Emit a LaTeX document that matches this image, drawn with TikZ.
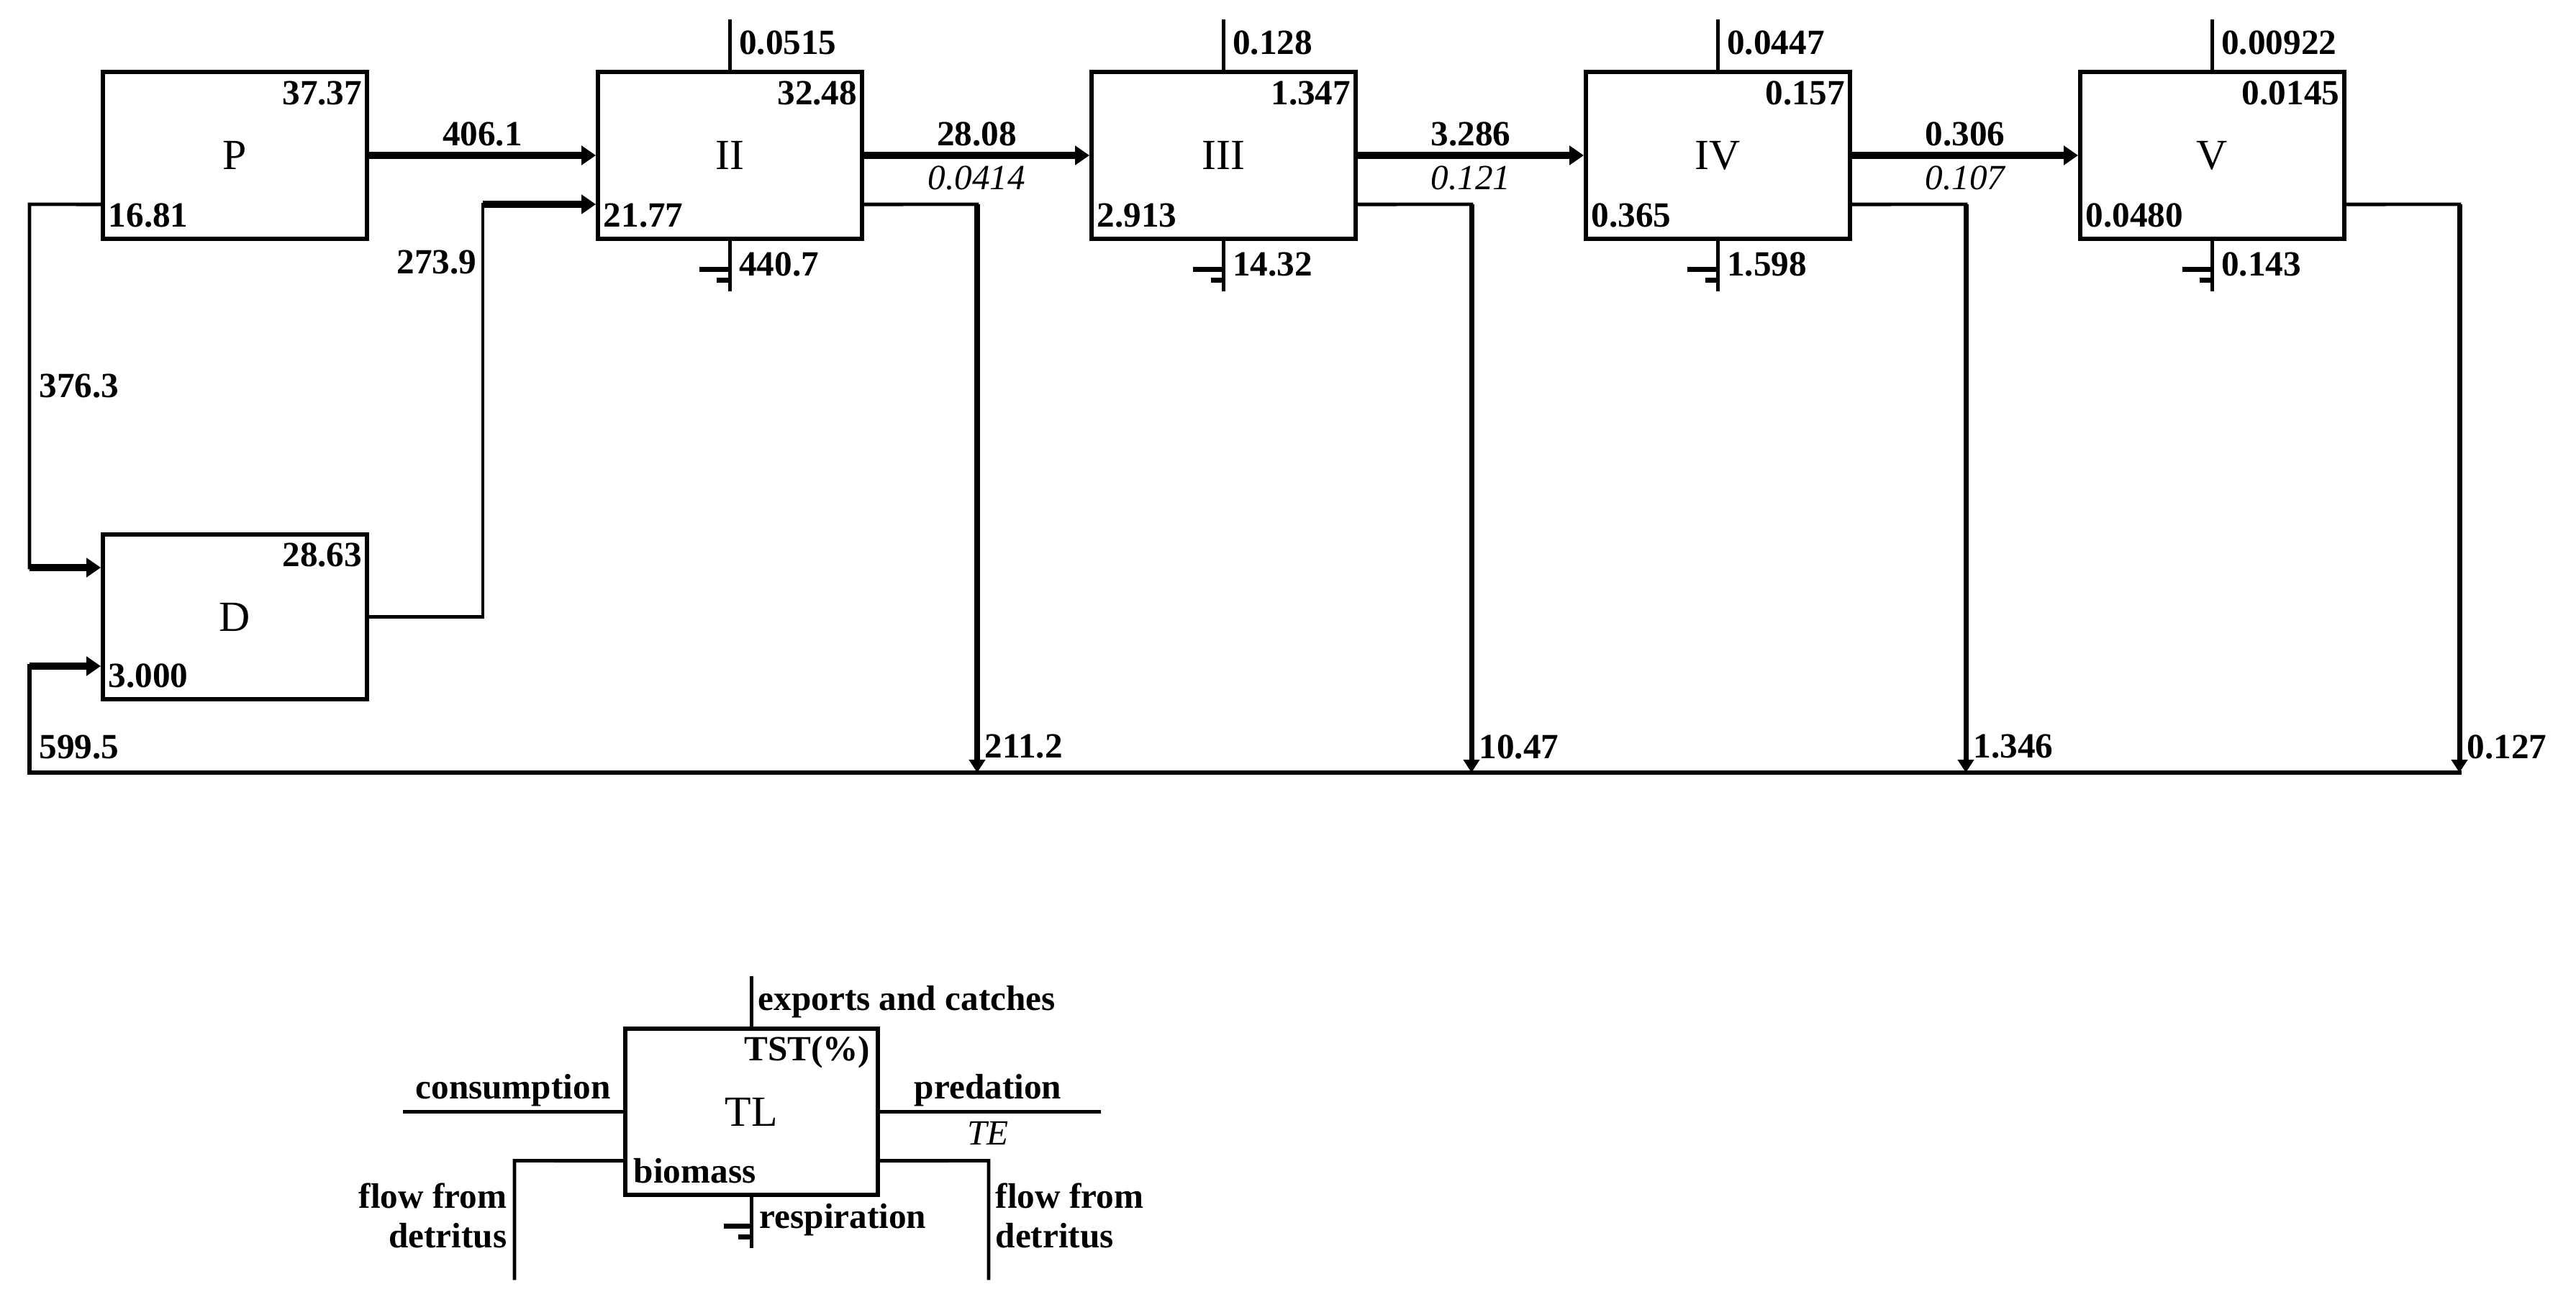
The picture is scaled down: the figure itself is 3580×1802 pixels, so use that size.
\documentclass[tikz,border=0pt]{standalone}
\usepackage{fontspec}
\setmainfont{Liberation Serif}
\usetikzlibrary{arrows.meta}
\begin{document}
\begin{tikzpicture}[x=0.01cm,y=-0.01cm,
  tl/.style={draw, line width=1.6pt, minimum width=3.67cm, minimum height=2.32cm, inner sep=0pt, font=\fontsize{17}{20}\selectfont},
  num/.style={inner sep=0pt, font=\fontsize{14}{16}\selectfont\bfseries},
  numit/.style={inner sep=0pt, font=\fontsize{14}{16}\selectfont\itshape},
  link/.style={line width=1.4pt, line cap=rect},
  flow/.style={line width=2.8pt, -{Triangle[length=0.2cm,width=0.26cm]}},
  drop/.style={line width=2pt, -{Triangle[length=0.18cm,width=0.22cm]}},
  gnd/.style={line width=2pt},
]
\useasboundingbox (0,0) rectangle (3580,1802);

% boxes
\node[tl] (P) at (326.5,216) {P};
\node[tl] (II) at (1014.5,216) {II};
\node[tl] (III) at (1700.5,216) {III};
\node[tl] (IV) at (2387.5,216) {IV};
\node[tl] (V) at (3074.5,216) {V};
\node[tl, minimum height=2.29cm] (D) at (326.5,857.5) {D};

% in-box labels of P and D
\node[num, anchor=east] (P-tr) at ([shift={(-0.09cm,-0.32cm)}]P.north east) {37.37};
\node[num, anchor=west] (P-bl) at ([shift={(0.10cm,0.35cm)}]P.south west) {16.81};
\node[num, anchor=east] (D-tr) at ([shift={(-0.09cm,-0.31cm)}]D.north east) {28.63};
\node[num, anchor=west] (D-bl) at ([shift={(0.10cm,0.35cm)}]D.south west) {3.000};

% consumer boxes: stubs, ground and labels
\foreach \n/\ex/\tst/\bio/\res in {II/0.0515/32.48/21.77/440.7, III/0.128/1.347/2.913/14.32, IV/0.0447/0.157/0.365/1.598, V/0.00922/0.0145/0.0480/0.143}{
  \draw[link] (\n.north) -- ([yshift=0.68cm]\n.north);
  \draw[link] (\n.south) -- ([yshift=-0.68cm]\n.south);
  \draw[gnd] ([shift={(-0.42cm,-0.40cm)}]\n.south) -- ([yshift=-0.40cm]\n.south);
  \draw[gnd] ([shift={(-0.18cm,-0.55cm)}]\n.south) -- ([yshift=-0.55cm]\n.south);
  \node[num, anchor=west] (\n-ex) at ([shift={(0.12cm,0.38cm)}]\n.north) {\ex};
  \node[num, anchor=west] (\n-res) at ([shift={(0.12cm,-0.33cm)}]\n.south) {\res};
  \node[num, anchor=east] (\n-tr) at ([shift={(-0.09cm,-0.32cm)}]\n.north east) {\tst};
  \node[num, anchor=west] (\n-bl) at ([shift={(0.10cm,0.35cm)}]\n.south west) {\bio};
}

% predation arrows
\draw[flow] (P) -- (II);
\draw[flow] (II) -- (III);
\draw[flow] (III) -- (IV);
\draw[flow] (IV) -- (V);
\node[num] (f1) at (670.5,186) {406.1};
\node[num] (f2) at (1357.5,186) {28.08};
\node[numit] (t2) at (1357.5,247) {0.0414};
\node[num] (f3) at (2044,186) {3.286};
\node[numit] (t3) at (2044,247) {0.121};
\node[num] (f4) at (2731,186) {0.306};
\node[numit] (t4) at (2731,247) {0.107};

% P to D
\coordinate (a1) at (41,284);
\coordinate (a2) at (41,789);
\draw[link] ([yshift=-0.68cm]P.west) -- (a1) -- (a2);
\draw[flow] (a2) -- (D.west |- a2);
\node[num, anchor=west] (l376) at (54,537) {376.3};

% D to II
\coordinate (c1) at (671,857.5);
\coordinate (c2) at (671,284);
\draw[link] (D.east) -- (c1) -- (c2);
\draw[flow] (c2) -- (II.west |- c2);
\node[num, anchor=east] (l273) at (663,365) {273.9};

% flows to detritus
\foreach \n/\xx/\val in {II/1358/211.2, III/2045/10.47, IV/2732/1.346, V/3418/0.127}{
  \coordinate (s\n) at (\xx,284);
  \coordinate (e\n) at (\xx,1074);
  \draw[link] ([yshift=-0.68cm]\n.east) -- (s\n);
  \draw[drop] (s\n) -- (e\n);
  \node[num, anchor=west] (d\n) at (\xx+10,1038) {\val};
}

% bottom return line
\coordinate (b1) at (41,1074);
\coordinate (b0) at (41,926);
\draw[link, line width=1.6pt] (eV) -- (b1) -- (b0);
\draw[flow] (b0) -- (D.west |- b0);
\node[num, anchor=west] (l599) at (54,1039) {599.5};

% legend
\node[tl, minimum width=3.51cm, minimum height=2.31cm] (TL) at (1044.5,1545.5) {TL};
\draw[link] (TL.north) -- ([yshift=0.68cm]TL.north);
\draw[link] (TL.south) -- ([yshift=-0.69cm]TL.south);
\draw[gnd] ([shift={(-0.38cm,-0.41cm)}]TL.south) -- ([yshift=-0.41cm]TL.south);
\draw[gnd] ([shift={(-0.18cm,-0.56cm)}]TL.south) -- ([yshift=-0.56cm]TL.south);
\coordinate (lc) at (562,1545.5);
\coordinate (lp) at (1528,1545.5);
\draw[link] (TL.west) -- (lc);
\draw[link] (TL.east) -- (lp);
\coordinate (lf1) at (715,1613.5);
\coordinate (lf2) at (715,1777);
\coordinate (rf1) at (1374,1613.5);
\coordinate (rf2) at (1374,1777);
\draw[link] ([yshift=-0.68cm]TL.west) -- (lf1) -- (lf2);
\draw[link] ([yshift=-0.68cm]TL.east) -- (rf1) -- (rf2);
\node[num, anchor=west] (Lex) at (1053,1393) {exports and catches};
\node[num, anchor=east] (Ltst) at (1210,1463) {TST(\%)};
\node[num] (Lcons) at (713,1516) {consumption};
\node[num] (Lpred) at (1373,1516) {predation};
\node[numit] (Lte) at (1373,1575) {TE};
\node[num, anchor=west] (Lbio) at (880,1628) {biomass};
\node[num, anchor=west] (Lres) at (1055,1696) {respiration};
\node[num, anchor=east, align=right, font=\fontsize{14}{15.6}\selectfont\bfseries] (Lfl) at (705,1690) {flow from\\detritus};
\node[num, anchor=west, align=left, font=\fontsize{14}{15.6}\selectfont\bfseries] (Lfr) at (1383,1690) {flow from\\detritus};
\end{tikzpicture}
\end{document}
